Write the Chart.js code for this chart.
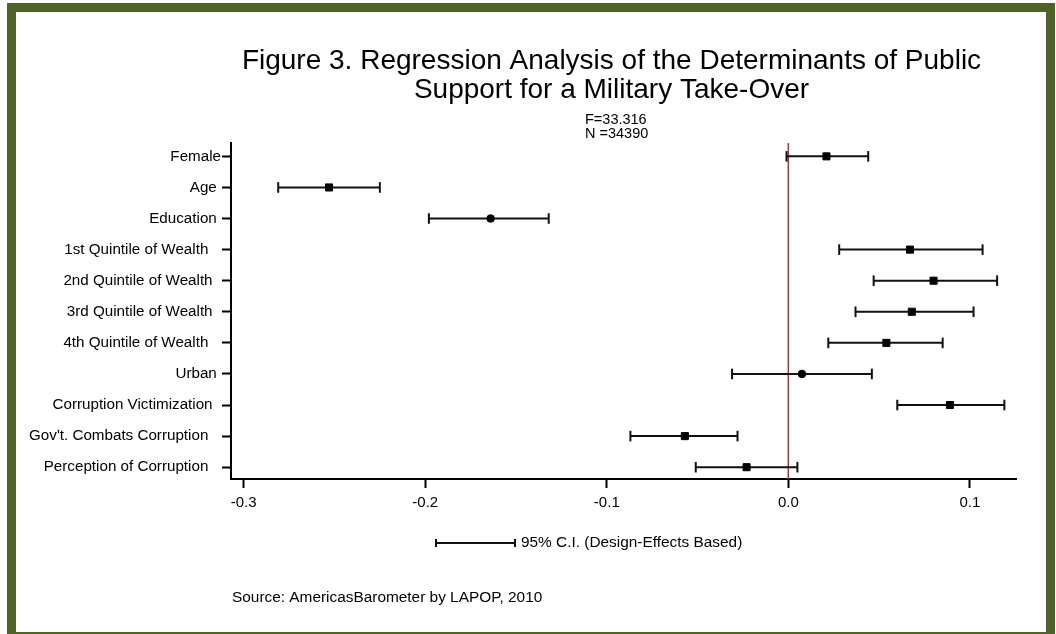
<!DOCTYPE html>
<html>
<head>
<meta charset="utf-8">
<script src="https://cdn.jsdelivr.net/npm/chart.js@4/dist/chart.umd.min.js"></script>
<style>
  html, body { margin: 0; padding: 0; background: #fff; overflow: hidden; }
  #wrap { position: relative; width: 1056px; height: 634px; }
  #chart { position: absolute; left: 0; top: 0; }
  #frame {
    position: absolute; left: 7px; top: 3px; width: 1048px; height: 638px;
    box-sizing: border-box; border: 9px solid #4f6228; pointer-events: none;
  }
</style>
</head>
<body>
<div id="wrap">
  <canvas id="chart" width="1056" height="634"></canvas>
  <div id="frame"></div>
</div>
<script>
// Regression coefficients with 95% CI (design-effects based)
const categories = [
    'Female',
    'Age',
    'Education',
    '1st Quintile of Wealth',
    '2nd Quintile of Wealth',
    '3rd Quintile of Wealth',
    '4th Quintile of Wealth',
    'Urban',
    'Corruption Victimization',
    "Gov't. Combats Corruption",
    'Perception of Corruption'
];
const estimates = [0.021, -0.253, -0.164, 0.067, 0.080, 0.068, 0.054, 0.0075, 0.089, -0.057, -0.023];
const lower     = [-0.001, -0.281, -0.198, 0.028, 0.047, 0.037, 0.022, -0.031, 0.060, -0.087, -0.051];
const upper     = [0.044, -0.225, -0.132, 0.107, 0.115, 0.102, 0.085, 0.046, 0.119, -0.028, 0.005];
const markerShapes = ['rect', 'rect', 'circle', 'rect', 'rect', 'rect', 'rect', 'circle', 'rect', 'rect', 'rect'];
const xTicks = [-0.3, -0.2, -0.1, 0.0, 0.1];
const refValue = 0;

const titleLines = ['Figure 3. Regression Analysis of the Determinants of Public', 'Support for a Military Take-Over'];
const statLines = ['F=33.316', 'N =34390'];
const legendText = '95% C.I. (Design-Effects Based)';
const sourceText = 'Source: AmericasBarometer by LAPOP, 2010';

// trailing blanks after some labels, as in the original
const labelPad = [0, 1, 1, 3, 2, 2, 3, 1, 2, 3, 3];

const FONT = "'Liberation Sans', Arial, sans-serif";
const INK = '#111';

// 畫標題、統計值、圖例與資料來源
const annotPlugin = {
    id: 'annot',
    beforeDatasetsDraw(chart) {
        const { ctx, chartArea, scales } = chart;
        const px = scales.x.getPixelForValue(refValue);
        ctx.save();
        ctx.strokeStyle = '#a3343a';
        ctx.lineWidth = 1.5;
        ctx.beginPath();
        ctx.moveTo(px, chartArea.top);
        ctx.lineTo(px, chartArea.bottom);
        ctx.stroke();
        ctx.restore();
    },
    afterDraw(chart) {
        const ctx = chart.ctx;
        ctx.save();
        ctx.fillStyle = '#000';
        ctx.textBaseline = 'alphabetic';

        ctx.font = '28px ' + FONT;
        ctx.textAlign = 'center';
        ctx.fillText(titleLines[0], 611.5, 69);
        ctx.fillText(titleLines[1], 611.5, 98);

        ctx.font = '14.5px ' + FONT;
        ctx.textAlign = 'left';
        ctx.fillText(statLines[0], 585, 124);
        ctx.fillText(statLines[1], 585, 138);

        // legend sample bar
        ctx.strokeStyle = INK;
        ctx.lineWidth = 2;
        ctx.beginPath();
        ctx.moveTo(436, 543); ctx.lineTo(515, 543);
        ctx.moveTo(436, 539); ctx.lineTo(436, 547);
        ctx.moveTo(515, 539); ctx.lineTo(515, 547);
        ctx.stroke();

        ctx.font = '15.4px ' + FONT;
        ctx.textBaseline = 'middle';
        ctx.fillText(legendText, 521, 543);
        ctx.fillText(sourceText, 232, 598);
        ctx.restore();
    }
};

const ciSets = categories.map((c, i) => ({
    type: 'line',
    label: c,
    data: [{ x: lower[i], y: i }, { x: upper[i], y: i }],
    borderColor: INK,
    borderWidth: 2,
    pointStyle: 'line',
    rotation: 90,
    pointRadius: 5.3,
    pointBorderWidth: 2,
    pointBorderColor: INK,
    pointHoverRadius: 5.3,
    clip: false,
    order: 2
}));

const pointSet = {
    type: 'scatter',
    label: 'Coefficient',
    data: estimates.map((v, i) => ({ x: v, y: i })),
    pointStyle: markerShapes,
    pointRadius: markerShapes.map(s => (s === 'rect' ? 5 : 3.8)),
    backgroundColor: '#000',
    borderColor: '#000',
    borderWidth: 1,
    clip: false,
    order: 1
};

new Chart(document.getElementById('chart').getContext('2d'), {
    type: 'scatter',
    data: { datasets: [...ciSets, pointSet] },
    plugins: [annotPlugin],
    options: {
        responsive: false,
        animation: false,
        events: [],
        layout: { padding: { top: 143, right: 40, bottom: 0, left: 0 } },
        plugins: {
            legend: { display: false },
            tooltip: { enabled: false },
            title: { display: false }
        },
        scales: {
            x: {
                type: 'linear',
                min: -0.307,
                max: 0.1254,
                afterBuildTicks: s => { s.ticks = xTicks.map(v => ({ value: v })); },
                afterFit: s => { s.height = 155; },
                ticks: {
                    callback: v => Number(v).toFixed(1),
                    color: '#000',
                    font: { family: FONT, size: 15 },
                    padding: 6,
                    maxRotation: 0,
                    autoSkip: false
                },
                grid: { drawOnChartArea: false, drawTicks: true, tickLength: 9, tickColor: '#000', tickWidth: 2 },
                border: { color: '#000', width: 2 }
            },
            y: {
                type: 'linear',
                reverse: true,
                min: -0.43,
                max: 10.38,
                afterBuildTicks: s => { s.ticks = categories.map((_, i) => ({ value: i })); },
                afterFit: s => { s.width = 231; },
                ticks: {
                    callback: v => categories[v] + ' '.repeat(labelPad[v]),
                    color: '#000',
                    font: { family: FONT, size: 15.2 },
                    padding: 1,
                    autoSkip: false
                },
                grid: { drawOnChartArea: false, drawTicks: true, tickLength: 9, tickColor: '#000', tickWidth: 2 },
                border: { color: '#000', width: 2 }
            }
        }
    }
});
</script>
</body>
</html>
